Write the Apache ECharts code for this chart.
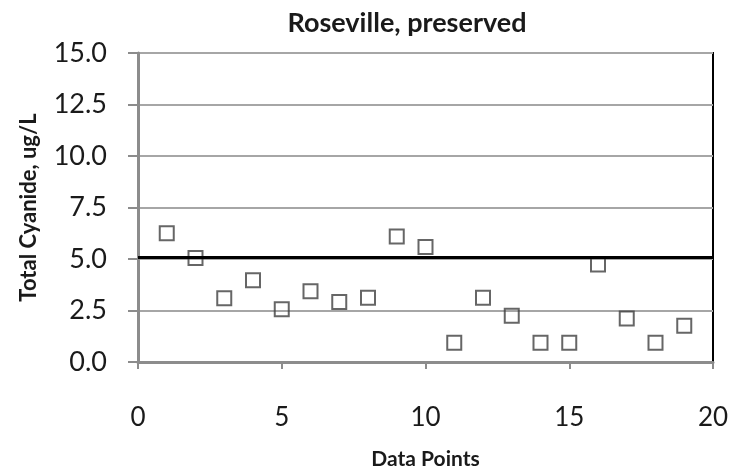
<!DOCTYPE html>
<html><head><meta charset="utf-8">
<script src="https://cdn.jsdelivr.net/npm/echarts@6/dist/echarts.min.js"></script>
<style>html,body{margin:0;padding:0;background:#fff}#c{width:743px;height:475px}</style>
</head><body><div id="c"></div>
<script>
const title = "Roseville, preserved";
const xName = "Data Points";
const yName = "Total Cyanide, ug/L";
const xPoints = [1,2,3,4,5,6,7,8,9,10,11,12,13,14,15,16,17,18,19];
const yValues = [6.25,5.05,3.1,3.97,2.56,3.44,2.91,3.12,6.09,5.58,0.93,3.12,2.24,0.93,0.93,4.73,2.11,0.93,1.76];
const limitValue = 5.1;
const xTicks = [0,5,10,15,20];
const yTicks = [0,2.5,5,7.5,10,12.5,15];

const F = 'Lato, "Open Sans", sans-serif';
const chart = echarts.init(document.getElementById('c'), null, {renderer:'canvas'});
chart.setOption({
  animation:false,
  backgroundColor:'#fff',
  title:{text:title,left:402,textAlign:'center',top:5,textStyle:{fontFamily:F,fontSize:27,fontWeight:'bold',color:'#1a1a1a'}},
  grid:{left:138,right:30,top:53,bottom:109,show:true,borderColor:'#000',borderWidth:2,backgroundColor:'transparent'},
  xAxis:{type:'value',min:xTicks[0],max:xTicks[xTicks.length-1],interval:5,
    name:xName,nameLocation:'middle',nameGap:87,
    nameTextStyle:{fontFamily:F,fontSize:21,fontWeight:'bold',color:'#1a1a1a'},
    axisLine:{show:true,lineStyle:{color:'#8c8c8c',width:3}},
    axisTick:{show:true,length:7,lineStyle:{color:'#8c8c8c',width:2}},
    axisLabel:{margin:43,fontFamily:F,fontSize:26,color:'#1a1a1a'},
    splitLine:{show:false}},
  yAxis:{type:'value',min:yTicks[0],max:yTicks[yTicks.length-1],interval:2.5,
    name:yName,nameLocation:'middle',nameGap:98,nameRotate:90,
    nameTextStyle:{fontFamily:F,fontSize:22,fontWeight:'bold',color:'#1a1a1a'},
    axisLine:{show:true,lineStyle:{color:'#8c8c8c',width:3}},
    axisTick:{show:true,length:10,lineStyle:{color:'#8c8c8c',width:2}},
    axisLabel:{margin:31,fontFamily:F,fontSize:27,color:'#1a1a1a',formatter:v=>v.toFixed(1)},
    splitLine:{show:true,lineStyle:{color:'#a6a6a6',width:2}}},
  series:[{
    type:'scatter',
    data:xPoints.map((x,i)=>[x,yValues[i]]),
    symbol:'rect',symbolSize:14,
    itemStyle:{color:'rgba(255,255,255,0)',borderColor:'#404040',borderWidth:2},
    z:3,
    markLine:{silent:true,symbol:['none','none'],label:{show:false},
      lineStyle:{color:'#000',width:3,type:'solid'},
      data:[{yAxis:limitValue}]}
  }]
});
</script></body></html>
